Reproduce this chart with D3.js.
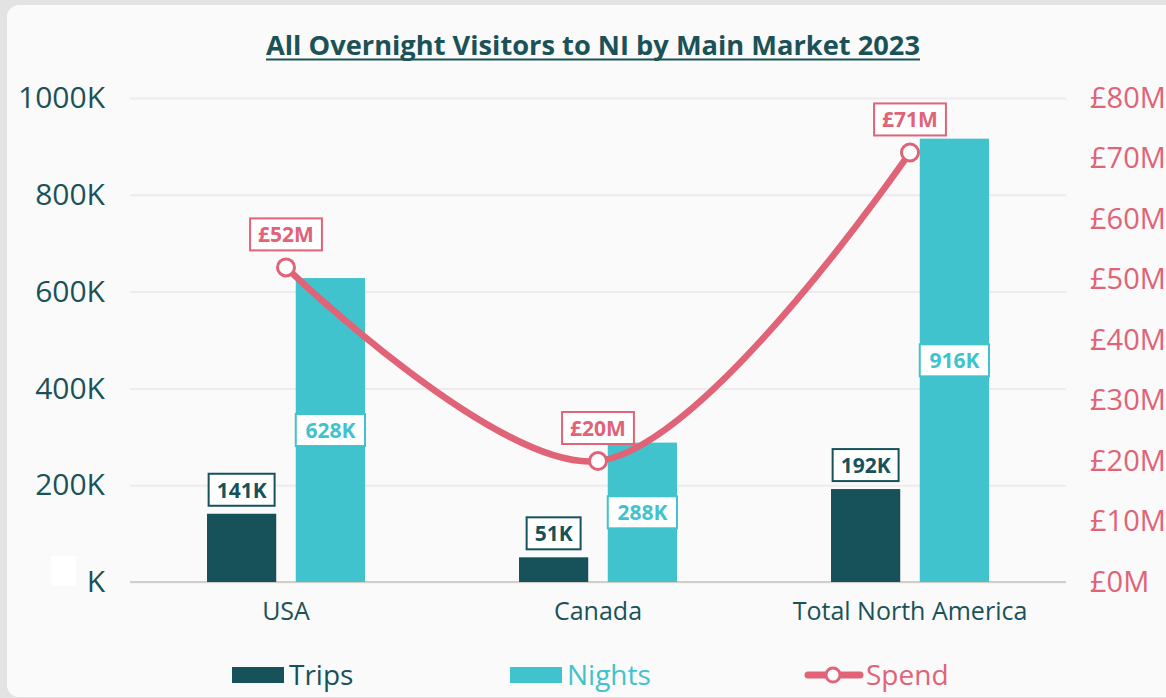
<!DOCTYPE html>
<html>
<head>
<meta charset="utf-8">
<script src="https://cdn.jsdelivr.net/npm/d3@7"></script>
<style>
  body { margin: 0; background: #e3e3e3; font-family: "Open Sans", sans-serif; }
  svg { display: block; }
</style>
</head>
<body>
<div id="main"></div>
<script>
// dados
const categories = ["USA", "Canada", "Total North America"];
const trips = [141, 51, 192];      // milhares
const nights = [628, 288, 916];    // milhares
const spend = [52, 20, 71];        // £ milhões
const leftTicks = [0, 200, 400, 600, 800, 1000];
const leftTickLabels = ["K", "200K", "400K", "600K", "800K", "1000K"];
const rightTicks = [0, 10, 20, 30, 40, 50, 60, 70, 80];
const rightTickLabels = ["£0M", "£10M", "£20M", "£30M", "£40M", "£50M", "£60M", "£70M", "£80M"];
const seriesNames = ["Trips", "Nights", "Spend"];

const colTrips = "#17525a";
const colNights = "#41c3cd";
const colSpend = "#e06377";
const colText = "#1b5257";

const W = 1166, H = 698;
const margin = { top: 98, right: 100, bottom: 116, left: 130 };
const w = W - margin.left - margin.right;   // 936
const h = H - margin.top - margin.bottom;   // 484

const svg = d3.select("#main").append("svg")
  .attr("width", W)
  .attr("height", H);

// cartao de fundo
svg.append("rect")
  .attr("x", 7).attr("y", 5)
  .attr("width", 1180).attr("height", 692)
  .attr("rx", 12)
  .attr("fill", "#fafafa");

// titulo
svg.append("text")
  .attr("x", 593)
  .attr("y", 55)
  .attr("text-anchor", "middle")
  .attr("fill", colText)
  .attr("font-size", "27px")
  .attr("font-weight", "bold")
  .attr("textLength", 654)
  .attr("lengthAdjust", "spacingAndGlyphs")
  .text("All Overnight Visitors to NI by Main Market 2023");
svg.append("line")
  .attr("x1", 266).attr("x2", 920)
  .attr("y1", 59.5).attr("y2", 59.5)
  .attr("stroke", colText)
  .attr("stroke-width", 2);

const g = svg.append("g")
  .attr("transform", `translate(${margin.left},${margin.top})`);

// escalas
const x = d3.scaleBand().domain(categories).range([0, w]).padding(0);
const xSub = d3.scaleBand().domain(["Trips", "Nights"]).range([-79, 79]).paddingInner(0.22);
const y = d3.scaleLinear().domain([0, 1000]).range([h, 0]);
const yR = d3.scaleLinear().domain([0, 80]).range([h, 0]);

// grade
g.append("g")
  .call(d3.axisLeft(y).tickValues(leftTicks).tickSize(-w).tickFormat(""))
  .call(a => a.select(".domain").remove())
  .call(a => a.selectAll("line").attr("stroke", "#ececec").attr("stroke-width", 2));

// eixo Y esquerdo
g.append("g")
  .call(d3.axisLeft(y).tickValues(leftTicks).tickSize(0).tickPadding(25)
    .tickFormat((d, i) => leftTickLabels[i]))
  .call(a => a.select(".domain").remove())
  .call(a => a.selectAll("text")
    .attr("fill", colText)
    .attr("font-size", "30px")
    .attr("font-family", "Open Sans"));

// quadrado branco sobre o zero
svg.append("rect")
  .attr("x", 51).attr("y", 556)
  .attr("width", 25).attr("height", 30)
  .attr("fill", "#ffffff");

// eixo Y direito
g.append("g")
  .attr("transform", `translate(${w},0)`)
  .call(d3.axisRight(yR).tickValues(rightTicks).tickSize(0).tickPadding(24)
    .tickFormat((d, i) => rightTickLabels[i]))
  .call(a => a.select(".domain").remove())
  .call(a => a.selectAll("text")
    .attr("fill", colSpend)
    .attr("font-size", "29px")
    .attr("font-family", "Open Sans"));

// linha base
g.append("line")
  .attr("x1", 0).attr("x2", w)
  .attr("y1", h).attr("y2", h)
  .attr("stroke", "#d2cfcb")
  .attr("stroke-width", 2);

// eixo X
g.append("g")
  .attr("transform", `translate(0,${h})`)
  .call(d3.axisBottom(x).tickSize(0).tickPadding(20))
  .call(a => a.select(".domain").remove())
  .call(a => a.selectAll("text")
    .attr("fill", colText)
    .attr("font-size", "25px")
    .attr("font-family", "Open Sans"));

// barras
const rows = categories.map((c, i) => ({ cat: c, trips: trips[i], nights: nights[i], spend: spend[i] }));

g.selectAll("rect.trips")
  .data(rows)
  .join("rect")
  .attr("class", "trips")
  .attr("x", d => x(d.cat) + x.bandwidth() / 2 + xSub("Trips"))
  .attr("y", d => y(d.trips))
  .attr("width", xSub.bandwidth())
  .attr("height", d => h - y(d.trips))
  .attr("fill", colTrips);

g.selectAll("rect.nights")
  .data(rows)
  .join("rect")
  .attr("class", "nights")
  .attr("x", d => x(d.cat) + x.bandwidth() / 2 + xSub("Nights"))
  .attr("y", d => y(d.nights))
  .attr("width", xSub.bandwidth())
  .attr("height", d => h - y(d.nights))
  .attr("fill", colNights);

// linha de gasto
const cx = d => x(d.cat) + x.bandwidth() / 2;
const line = d3.line()
  .x(cx)
  .y(d => yR(d.spend))
  .curve(d3.curveCatmullRom.alpha(0.5));

g.append("path")
  .datum(rows)
  .attr("d", line)
  .attr("fill", "none")
  .attr("stroke", colSpend)
  .attr("stroke-width", 6.5)
  .attr("stroke-linecap", "round");

g.selectAll("circle.pt")
  .data(rows)
  .join("circle")
  .attr("class", "pt")
  .attr("cx", cx)
  .attr("cy", d => yR(d.spend))
  .attr("r", 8.5)
  .attr("fill", "#ffffff")
  .attr("stroke", colSpend)
  .attr("stroke-width", 3);

// rotulos com caixa
function boxLabel(px, py, txt, color, minW) {
  const lab = g.append("g");
  const t = lab.append("text")
    .attr("x", px).attr("y", py)
    .attr("text-anchor", "middle")
    .attr("dominant-baseline", "central")
    .attr("fill", color)
    .attr("font-size", "21px")
    .attr("font-weight", "bold")
    .attr("font-family", "Open Sans")
    .text(txt);
  const bw = Math.max(t.node().getComputedTextLength() + 16, minW || 0);
  lab.insert("rect", "text")
    .attr("x", px - bw / 2).attr("y", py - 16)
    .attr("width", bw).attr("height", 32)
    .attr("fill", "#ffffff")
    .attr("stroke", color)
    .attr("stroke-width", 2);
}

rows.forEach(d => {
  const tx = cx(d) + xSub("Trips") + xSub.bandwidth() / 2;
  boxLabel(tx, y(d.trips) - 24, d.trips + "K", colTrips);
  const nx = cx(d) + xSub("Nights") + xSub.bandwidth() / 2;
  boxLabel(nx, (y(d.nights) + h) / 2, d.nights + "K", colNights, xSub.bandwidth());
  boxLabel(cx(d), yR(d.spend) - 33, "£" + d.spend + "M", colSpend);
});

// legenda
const legend = svg.append("g").attr("transform", "translate(0,674)");
const legX = [232, 510, 805];
const legCol = [colTrips, colNights, colSpend];

seriesNames.forEach((s, i) => {
  const lg = legend.append("g").attr("transform", `translate(${legX[i]},0)`);
  if (i < 2) {
    lg.append("rect")
      .attr("x", 0).attr("y", -7)
      .attr("width", 52).attr("height", 16)
      .attr("fill", legCol[i]);
  } else {
    lg.append("line")
      .attr("x1", 3).attr("x2", 55)
      .attr("y1", 1).attr("y2", 1)
      .attr("stroke", legCol[i])
      .attr("stroke-width", 7)
      .attr("stroke-linecap", "round");
    lg.append("circle")
      .attr("cx", 28).attr("cy", 1).attr("r", 7)
      .attr("fill", "#ffffff")
      .attr("stroke", legCol[i])
      .attr("stroke-width", 3);
  }
  lg.append("text")
    .attr("x", i < 2 ? 57 : 61)
    .attr("y", 0)
    .attr("dominant-baseline", "central")
    .attr("fill", legCol[i])
    .attr("font-size", "28px")
    .attr("font-family", "Open Sans")
    .text(s);
});
</script>
</body>
</html>
